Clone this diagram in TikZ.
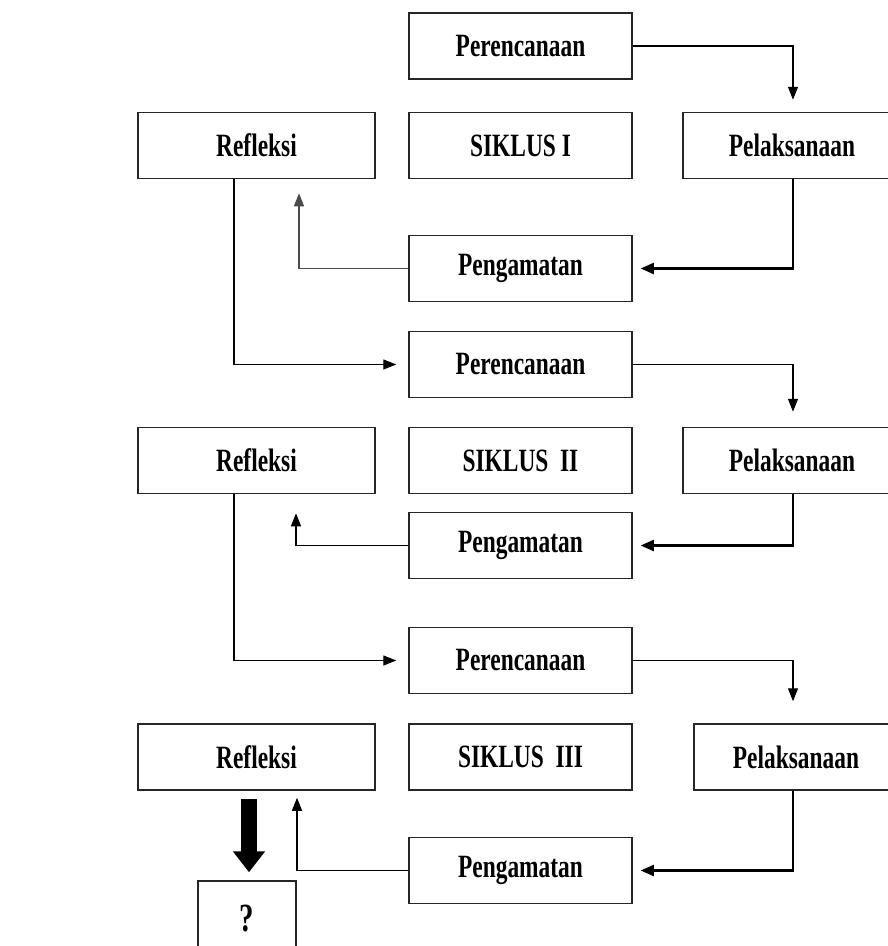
\documentclass[tikz,border=0pt]{standalone}
\usepackage{fontspec}
\setmainfont{Liberation Serif}[FakeStretch=0.72]
\usetikzlibrary{arrows.meta,calc}
\tikzset{
  box/.style={draw=black!85, line width=1.5pt, minimum width=223pt, minimum height=66pt,
    inner sep=0pt, font=\fontsize{32.5}{32.5}\selectfont\bfseries},
  arr/.style={draw=black, line width=1.4pt, -{Triangle[length=13pt,width=10pt]}},
  thickarr/.style={draw=black, line width=2.2pt, -{Triangle[length=13pt,width=11pt]}},
  bigarr/.style={draw=black, line width=16pt, -{Triangle[length=21pt,width=31pt]}},
}
\begin{document}
\begin{tikzpicture}[x=1pt,y=-1pt]
\clip (0,0) rectangle (888,946);
\fill[white] (0,0) rectangle (888,946);
% Cycle I
\node[box] (per1) at (520.5,46) {Perencanaan};
\node[box, minimum width=237pt] (ref1) at (256.5,145.5) {Refleksi};
\node[box] (sik1) at (520.5,145.5) {SIKLUS I};
\node[box, minimum width=218pt] (pel1) at (792,145.5) {Pelaksanaan};
\node[box] (pen1) at (520.5,268.5) {Pengamatan};
% Cycle II
\node[box] (per2) at (520.5,364.5) {Perencanaan};
\node[box, minimum width=237pt] (ref2) at (256.5,460.5) {Refleksi};
\node[box] (sik2) at (520.5,460.5) {SIKLUS\ \ II};
\node[box, minimum width=218pt] (pel2) at (792,460.5) {Pelaksanaan};
\node[box] (pen2) at (520.5,545.5) {Pengamatan};
% Cycle III
\node[box] (per3) at (520.5,660.5) {Perencanaan};
\node[box, minimum width=237pt] (ref3) at (256.5,757) {Refleksi};
\node[box] (sik3) at (520.5,757) {SIKLUS\ \ III};
\node[box, minimum width=204pt] (pel3) at (796,757) {Pelaksanaan};
\node[box] (pen3) at (520.5,870.5) {Pengamatan};
\node[box, minimum width=98pt, minimum height=75pt, font=\fontsize{40}{40}\selectfont\bfseries] (q) at (247,918.5) {?};
% Connectors cycle I
\draw[arr] (per1.east) -| ($(pel1.north)+(1,-12)$);
\draw[thickarr] ($(pel1.south)+(1,0)$) |- ($(pen1.east)+(8,0)$);
\draw[arr, draw=black!70] (pen1.west) -| ($(ref1.south)+(42.5,14)$);
\draw[arr] ($(ref1.south)+(-22.5,0)$) |- ($(per2.west)+(-12,0)$);
% Connectors cycle II
\draw[arr] (per2.east) -| ($(pel2.north)+(1,-15)$);
\draw[thickarr] ($(pel2.south)+(1,0)$) |- ($(pen2.east)+(8,0)$);
\draw[arr] (pen2.west) -| ($(ref2.south)+(39.5,19)$);
\draw[arr] ($(ref2.south)+(-22.5,0)$) |- ($(per3.west)+(-12,0)$);
% Connectors cycle III
\draw[arr] (per3.east) -| ($(pel3.north)+(-3,-22)$);
\draw[thickarr] ($(pel3.south)+(-3,0)$) |- ($(pen3.east)+(8,0)$);
\draw[arr] (pen3.west) -| ($(ref3.south)+(40.5,7)$);
\draw[bigarr] ($(ref3.south)+(-7.5,8)$) -- ($(q.north)+(2,-8)$);
\end{tikzpicture}
\end{document}
